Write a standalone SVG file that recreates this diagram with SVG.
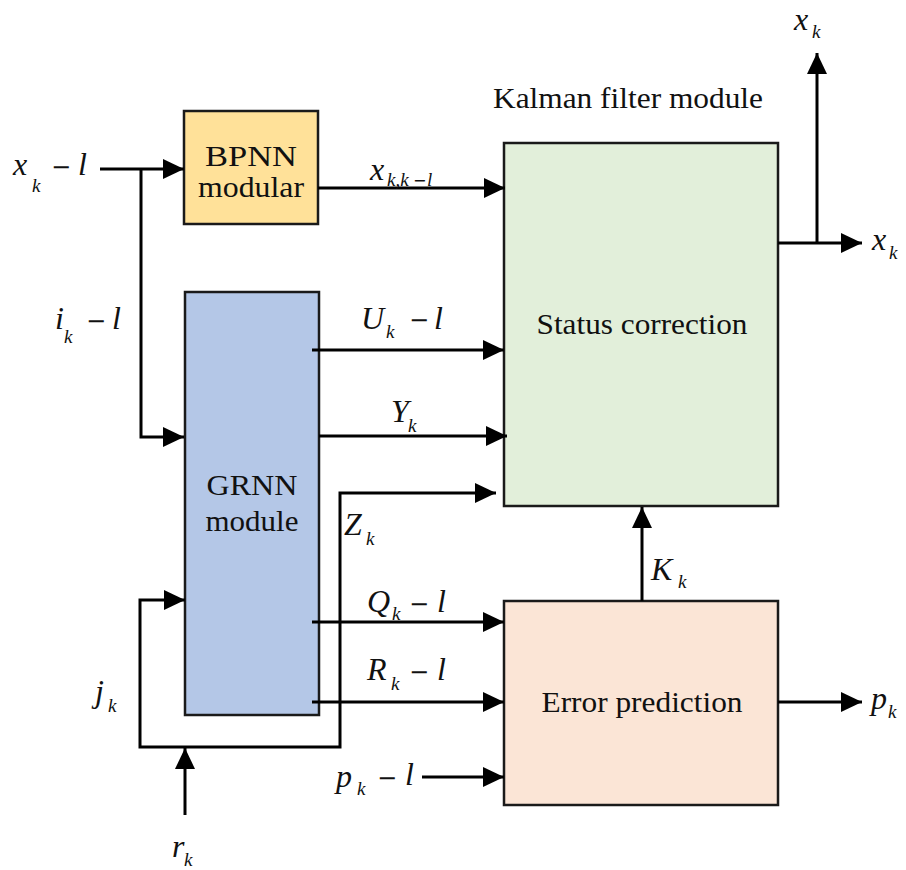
<svg xmlns="http://www.w3.org/2000/svg" width="906" height="870" viewBox="0 0 906 870">
<style>
.bx{stroke:#1a1a1a;stroke-width:2.5}
.t{font-family:'Liberation Serif','DejaVu Serif',serif;font-size:30px;fill:#111;text-anchor:middle}
.m{font-family:'Liberation Serif','DejaVu Serif',serif;font-style:italic;font-size:32px;fill:#111}
.s{font-size:19px}
.u{font-family:'DejaVu Sans',sans-serif;font-style:normal;font-size:24px}
.us{font-family:'DejaVu Sans',sans-serif;font-style:normal;font-size:16px}
.ln{fill:none;stroke:#000;stroke-width:3;stroke-linejoin:miter}
</style>
<defs>
<marker id="ah" markerUnits="userSpaceOnUse" markerWidth="22" markerHeight="20" refX="21" refY="10" orient="auto">
<path d="M0,0 L21,10 L0,20 z" fill="#000"/>
</marker>
</defs>
<rect width="906" height="870" fill="#fff"/>

<g id="bpnn">
<rect class="bx" x="184" y="111" width="134" height="113" fill="#FFE199"/>
<text class="t" x="251" y="166" textLength="92" lengthAdjust="spacingAndGlyphs">BPNN</text>
<text class="t" x="251" y="197" textLength="106" lengthAdjust="spacingAndGlyphs">modular</text>
</g>

<g id="grnn">
<rect class="bx" x="185" y="292" width="134" height="423" fill="#B4C7E7"/>
<text class="t" x="252" y="495" textLength="91" lengthAdjust="spacingAndGlyphs">GRNN</text>
<text class="t" x="252" y="531" textLength="93" lengthAdjust="spacingAndGlyphs">module</text>
</g>

<g id="kalman">
<text class="t" x="628" y="108" textLength="270" lengthAdjust="spacingAndGlyphs">Kalman filter module</text>
</g>

<g id="status">
<rect class="bx" x="504" y="143" width="274" height="363" fill="#E2EFDA"/>
<text class="t" x="642" y="334" textLength="211" lengthAdjust="spacingAndGlyphs">Status correction</text>
</g>

<g id="error">
<rect class="bx" x="504" y="601" width="274" height="204" fill="#FBE5D6"/>
<text class="t" x="642" y="712" textLength="201" lengthAdjust="spacingAndGlyphs">Error prediction</text>
</g>

<g id="connectors">
<path class="ln" d="M100,169 L184,169" marker-end="url(#ah)"/>
<path class="ln" d="M141,169 L141,437 L184,437" marker-end="url(#ah)"/>
<path class="ln" d="M318,188 L505,188" marker-end="url(#ah)"/>
<path class="ln" d="M312,350 L504,350" marker-end="url(#ah)"/>
<path class="ln" d="M319,436 L507,436" marker-end="url(#ah)"/>
<path class="ln" d="M185,747 L140,747 L140,600 L185,600" marker-end="url(#ah)"/>
<path class="ln" d="M185,747 L340,747 L340,493 L496,493" marker-end="url(#ah)"/>
<path class="ln" d="M185,815 L185,748" marker-end="url(#ah)"/>
<path class="ln" d="M312,622 L504,622" marker-end="url(#ah)"/>
<path class="ln" d="M312,702 L504,702" marker-end="url(#ah)"/>
<path class="ln" d="M422,777 L504,777" marker-end="url(#ah)"/>
<path class="ln" d="M642,601 L642,507" marker-end="url(#ah)"/>
<path class="ln" d="M778,243 L862,243" marker-end="url(#ah)"/>
<path class="ln" d="M817,243 L817,53" marker-end="url(#ah)"/>
<path class="ln" d="M778,702 L862,702" marker-end="url(#ah)"/>
</g>

<g id="labels">
<text class="m"><tspan x="13" y="175">x</tspan><tspan class="s" x="32" y="192">k</tspan><tspan class="u" x="51" y="175">−</tspan><tspan x="78" y="175">l</tspan></text>
<text class="m"><tspan x="55" y="329">i</tspan><tspan class="s" x="64" y="343">k</tspan><tspan class="u" x="86" y="329">−</tspan><tspan x="112" y="329">l</tspan></text>
<text class="m"><tspan x="370" y="180">x</tspan><tspan class="s" x="387" y="186">k,k</tspan><tspan class="us" x="413" y="186">−</tspan><tspan class="s" x="427" y="186">l</tspan></text>
<text class="m"><tspan x="361" y="329">U</tspan><tspan class="s" x="386" y="338">k</tspan><tspan class="u" x="409" y="328">−</tspan><tspan x="434" y="329">l</tspan></text>
<text class="m"><tspan x="391" y="422">Y</tspan><tspan class="s" x="408" y="432">k</tspan></text>
<text class="m"><tspan x="344" y="535">Z</tspan><tspan class="s" x="366" y="545">k</tspan></text>
<text class="m"><tspan x="367" y="612">Q</tspan><tspan class="s" x="392" y="620">k</tspan><tspan class="u" x="409" y="612">−</tspan><tspan x="437" y="612">l</tspan></text>
<text class="m"><tspan x="367" y="680">R</tspan><tspan class="s" x="391" y="690">k</tspan><tspan class="u" x="409" y="680">−</tspan><tspan x="437" y="680">l</tspan></text>
<text class="m"><tspan x="95" y="702">j</tspan><tspan class="s" x="108" y="712">k</tspan></text>
<text class="m"><tspan x="172" y="857">r</tspan><tspan class="s" x="184" y="866">k</tspan></text>
<text class="m"><tspan x="336" y="787">p</tspan><tspan class="s" x="357" y="795">k</tspan><tspan class="u" x="377" y="786">−</tspan><tspan x="405" y="785">l</tspan></text>
<text class="m"><tspan x="794" y="30">x</tspan><tspan class="s" x="812" y="38">k</tspan></text>
<text class="m"><tspan x="872" y="250">x</tspan><tspan class="s" x="889" y="259">k</tspan></text>
<text class="m"><tspan x="651" y="580">K</tspan><tspan class="s" x="678" y="588">k</tspan></text>
<text class="m"><tspan x="871" y="709">p</tspan><tspan class="s" x="888" y="718">k</tspan></text>
</g>
</svg>
